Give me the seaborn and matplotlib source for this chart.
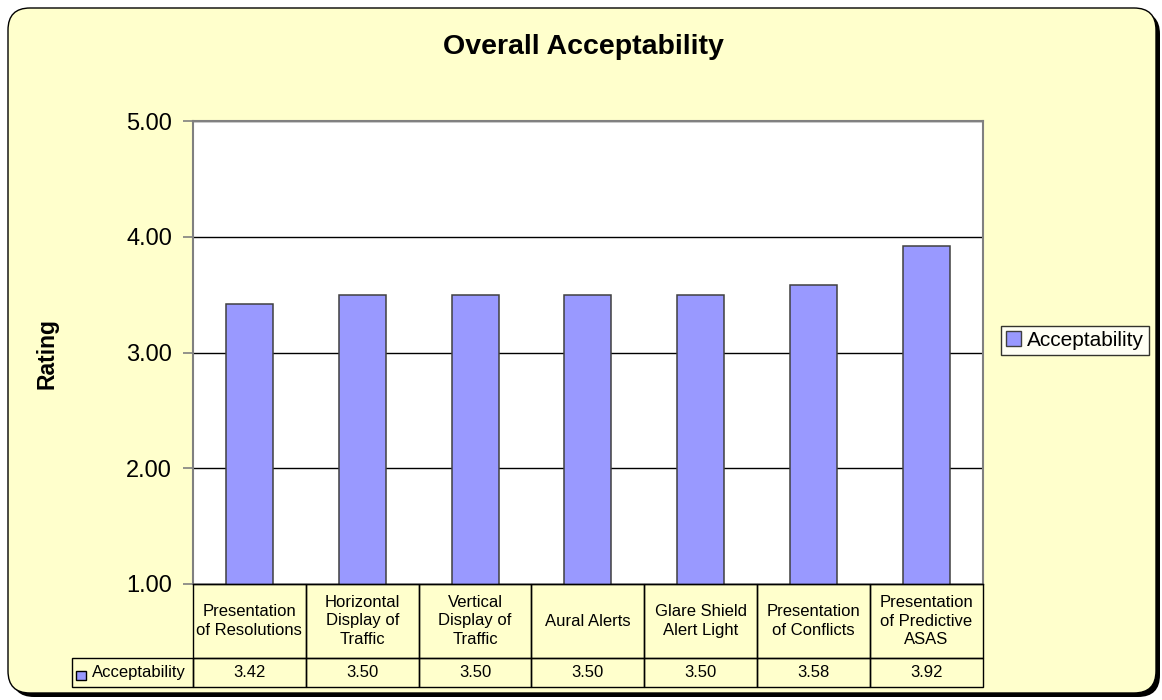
import numpy as np
import pandas as pd
import matplotlib
import seaborn as sns

matplotlib.use("Agg")
from matplotlib import pyplot as plt
from matplotlib.patches import FancyBboxPatch, Patch, Rectangle
from matplotlib.transforms import IdentityTransform

# data
categories = [
    "Presentation\nof Resolutions",
    "Horizontal\nDisplay of\nTraffic",
    "Vertical\nDisplay of\nTraffic",
    "Aural Alerts",
    "Glare Shield\nAlert Light",
    "Presentation\nof Conflicts",
    "Presentation\nof Predictive\nASAS",
]
ratings = [3.42, 3.50, 3.50, 3.50, 3.50, 3.58, 3.92]
series_name = "Acceptability"
y_ticks = [1, 2, 3, 4, 5]

BAR_COLOR = "#9999FF"
BAR_EDGE = "#404040"
BG_COLOR = "#FFFFCC"
W, H = 1162, 700

sns.set_style("white")
plt.rcParams["font.family"] = ["Liberation Sans", "DejaVu Sans"]
plt.rcParams["text.color"] = "black"
plt.rcParams["ytick.labelcolor"] = "black"

df = pd.DataFrame({"category": categories, "rating": ratings})

fig = plt.figure(figsize=(W / 100, H / 100), dpi=100)
fig.patch.set_facecolor("white")

# rounded chart area with drop shadow (pixel coords)
shadow = FancyBboxPatch((12, 3), 1148, 685, boxstyle="round,pad=0,rounding_size=22",
                        facecolor="black", edgecolor="none", transform=IdentityTransform(),
                        zorder=-3)
panel = FancyBboxPatch((8, 7), 1148, 685, boxstyle="round,pad=0,rounding_size=22",
                       facecolor=BG_COLOR, edgecolor="black", linewidth=1,
                       transform=IdentityTransform(), zorder=-2)
fig.patches.extend([shadow, panel])

# plot area
left, right, top, bottom = 193, 982.7, 121, 584
ax = fig.add_axes([left / W, 1 - bottom / H, (right - left) / W, (bottom - top) / H])
ax.set_facecolor("white")
sns.barplot(data=df, x="category", y="rating", color=BAR_COLOR, edgecolor=BAR_EDGE,
            linewidth=1.1, width=0.417, saturation=1, ax=ax)
ax.set_ylim(1, 5)
ax.set_xlim(-0.5, len(categories) - 0.5)
ax.set_yticks(y_ticks)
ax.set_yticklabels([f"{t:.2f}" for t in y_ticks], fontsize=17)
ax.set_xticks([])
ax.set_xlabel("")
ax.set_ylabel("")
ax.set_axisbelow(True)
ax.yaxis.grid(True, color="black", linewidth=1)
ax.tick_params(axis="y", direction="out", length=7, width=1.2, color="#808080", pad=8, left=True)
for name, sp in ax.spines.items():
    sp.set_visible(True)
    sp.set_color("#808080")
    sp.set_linewidth(1.5)
ax.spines["bottom"].set_color("black")
ax.spines["bottom"].set_linewidth(1)

# data table below the axis
t_left, t_top, t_bottom = 72, 584, 687
ax_tab = fig.add_axes([t_left / W, 1 - t_bottom / H, (right - t_left) / W, (t_bottom - t_top) / H])
ax_tab.axis("off")
cell_text = [[""] + categories, [""] + [f"{v:.2f}" for v in ratings]]
first_w = left - t_left
col_w = (right - left) / len(categories)
table = ax_tab.table(cellText=cell_text, cellLoc="center", bbox=[0, 0, 1, 1],
                     colWidths=[first_w] + [col_w] * len(categories))
table.auto_set_font_size(False)
table.set_fontsize(12)
for (r, c), cell in table.get_celld().items():
    cell.set_facecolor("none")
    cell.set_edgecolor("black")
    cell.set_linewidth(1)
    cell.set_height(74 if r == 0 else 29)
    cell.get_text().set_linespacing(1.3)
table[0, 0].visible_edges = "open"

tab_w = right - t_left
ax_tab.add_patch(Rectangle(((76 - t_left) / tab_w, (t_bottom - 680) / 103), 9.5 / tab_w, 9 / 103,
                           facecolor=BAR_COLOR, edgecolor="black", linewidth=1,
                           transform=ax_tab.transAxes, clip_on=False))
ax_tab.text((186 - t_left) / tab_w, (t_bottom - 672.5) / 103, series_name, fontsize=12,
            ha="right", va="center", transform=ax_tab.transAxes)

# title, axis label, legend
fig.text(583 / W, 1 - 47 / H, "Overall Acceptability", fontsize=20.5, fontweight="bold",
         ha="center", va="center")
fig.text(47 / W, 1 - 353 / H, "Rating", fontsize=16.5, fontweight="bold", rotation=90,
         ha="center", va="center")
handle = Patch(facecolor=BAR_COLOR, edgecolor=BAR_EDGE, label=series_name)
leg = fig.legend(handles=[handle], loc="center", bbox_to_anchor=(1075 / W, 1 - 340.5 / H),
                 fontsize=15, frameon=True, fancybox=False, handlelength=0.7, handleheight=0.7,
                 handletextpad=0.3, borderpad=0.25, borderaxespad=0)
leg.get_frame().set_edgecolor("black")
leg.get_frame().set_facecolor("white")
leg.get_frame().set_linewidth(1)

fig.savefig("out.png", dpi=100)
plt.close(fig)
